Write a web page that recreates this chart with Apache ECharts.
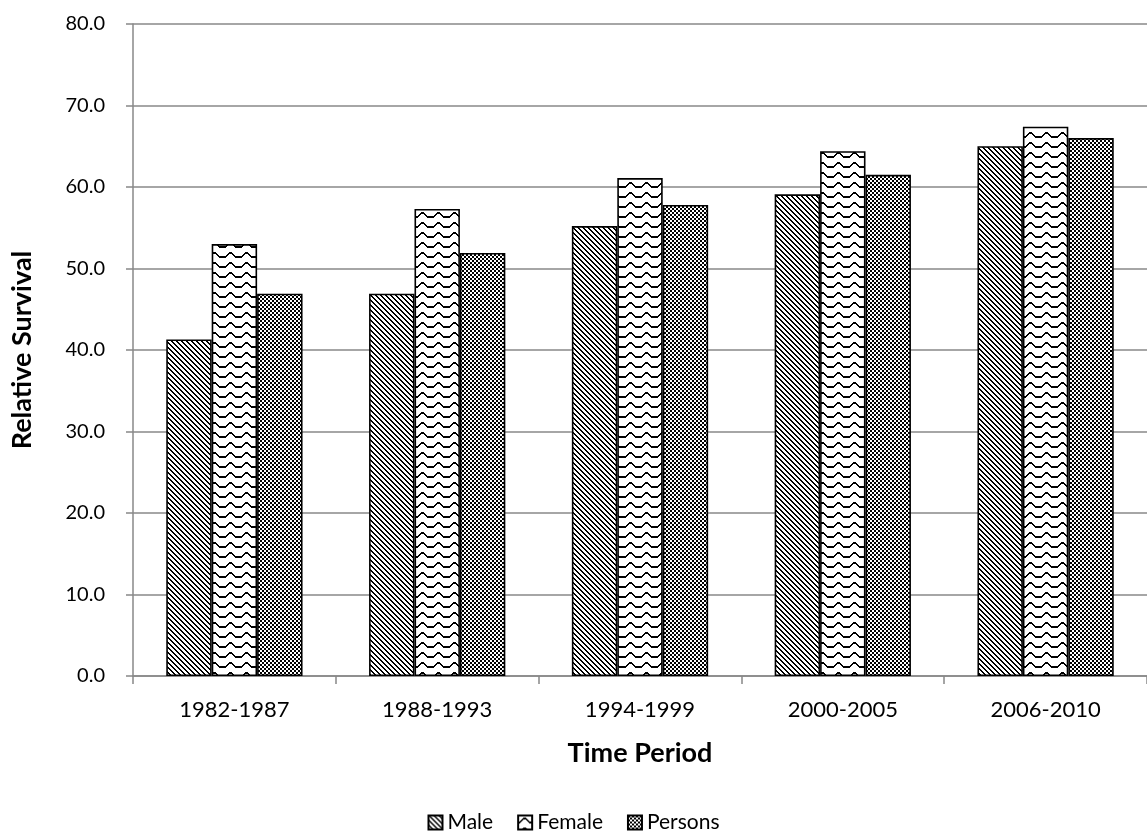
<!DOCTYPE html>
<html>
<head>
<meta charset="utf-8">
<script src="https://cdn.jsdelivr.net/npm/echarts@6/dist/echarts.min.js"></script>
<style>html,body{margin:0;padding:0;background:#fff;}#c{width:1147px;height:838px;}</style>
</head>
<body>
<div id="c"></div>
<script>
const categories = ['1982-1987', '1988-1993', '1994-1999', '2000-2005', '2006-2010'];
const male = [41.3, 46.9, 55.2, 59.1, 65.0];
const female = [53.0, 57.3, 61.1, 64.4, 67.4];
const persons = [46.9, 51.9, 57.8, 61.5, 66.0];
const yTicks = [0, 10, 20, 30, 40, 50, 60, 70, 80];

function tile(w, h, draw) {
  const c = document.createElement('canvas');
  c.width = w; c.height = h;
  const g = c.getContext('2d');
  g.fillStyle = '#fff'; g.fillRect(0, 0, w, h);
  g.fillStyle = '#000';
  draw(g);
  return c;
}
const malePat = tile(10, 10, g => {
  for (let y = 0; y < 10; y++) for (let x = 0; x < 10; x++) {
    const d = ((x - y) % 5 + 5) % 5;
    if (d === 0 || d === 1) g.fillRect(x, y, 1, 1);
  }
});
const femalePat = tile(16, 10, g => {
  const ys = [4, 4, 3, 2, 1, 0, 0, 0, 1, 2, 3, 4, 4, 4, 4, 4];
  for (let x = 0; x < 16; x++) {
    g.fillRect(x, ys[x] + 2, 1, 2);
  }
});
const personsPat = tile(4, 4, g => {
  g.fillRect(0, 0, 2, 2); g.fillRect(2, 2, 2, 2);
});

const font = 'Lato, "Open Sans", sans-serif';
const chart = echarts.init(document.getElementById('c'));
function ser(name, data, pat) {
  return {
    name, type: 'bar', data,
    barWidth: '22.4%', barGap: '0%',
    itemStyle: { color: { image: pat, repeat: 'repeat' }, borderColor: '#000', borderWidth: 1.6 }
  };
}
chart.setOption({
  animation: false,
  backgroundColor: '#fff',
  grid: { left: 133, right: -11, top: 24, bottom: 162, containLabel: false },
  legend: {
    bottom: 0, left: 'center', itemWidth: 14, itemHeight: 14, itemGap: 24,
    icon: 'rect',
    textStyle: { fontFamily: font, fontSize: 21, color: '#000' },
    data: ['Male', 'Female', 'Persons']
  },
  xAxis: {
    type: 'category', data: categories,
    name: 'Time Period', nameLocation: 'middle', nameGap: 64,
    nameTextStyle: { fontFamily: font, fontSize: 27, fontWeight: 'bold', color: '#000' },
    axisLine: { lineStyle: { color: '#888', width: 1.5 } },
    axisTick: { show: true, length: 8, lineStyle: { color: '#888', width: 1.5 } },
    axisLabel: { fontFamily: font, fontSize: 22, color: '#000', margin: 23 }
  },
  yAxis: {
    type: 'value', min: 0, max: 80, interval: 10,
    name: 'Relative Survival', nameLocation: 'middle', nameGap: 97,
    nameTextStyle: { fontFamily: font, fontSize: 27, fontWeight: 'bold', color: '#000' },
    axisLine: { show: true, lineStyle: { color: '#888', width: 1.5 } },
    axisTick: { show: true, length: 7, lineStyle: { color: '#888', width: 1.5 } },
    splitLine: { lineStyle: { color: '#888', width: 1.5 } },
    axisLabel: { fontFamily: font, fontSize: 20, color: '#000', margin: 28,
      formatter: v => yTicks.includes(v) ? v.toFixed(1) : '' }
  },
  series: [ser('Male', male, malePat), ser('Female', female, femalePat), ser('Persons', persons, personsPat)]
});
</script>
</body>
</html>
